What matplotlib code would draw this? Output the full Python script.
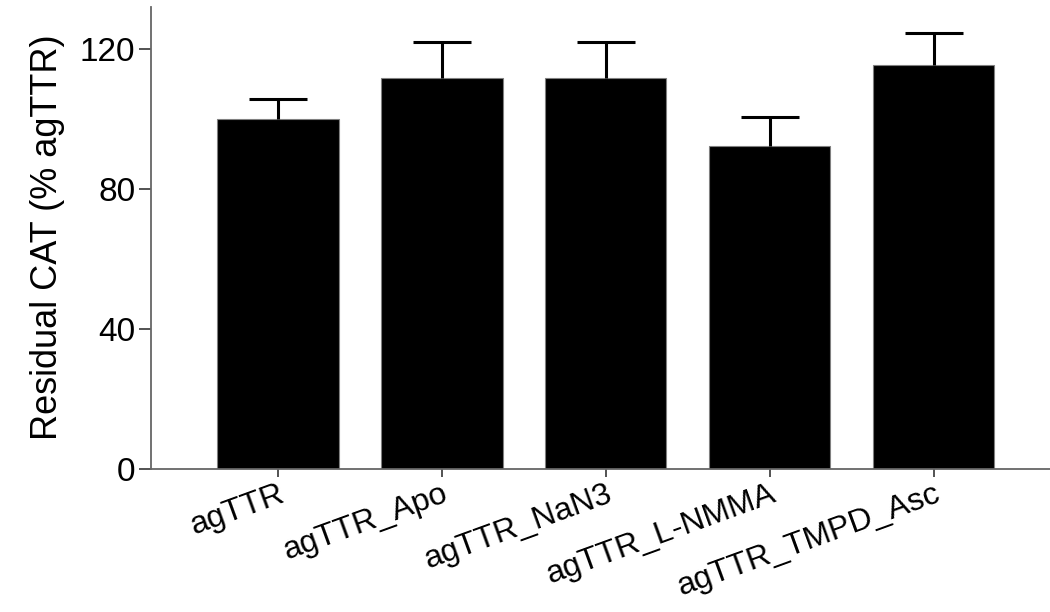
import matplotlib
matplotlib.use("Agg")
import matplotlib.pyplot as plt
import numpy as np

# residual CAT activity per treatment, as % of agTTR
groups = ["agTTR", "agTTR_Apo", "agTTR_NaN3", "agTTR_L-NMMA", "agTTR_TMPD_Asc"]
residual_cat = [100.0, 111.7, 111.7, 92.5, 115.4]
sem = [5.7, 10.3, 10.3, 8.3, 9.2]
y_ticks = [0, 40, 80, 120]

plt.rcParams["font.family"] = ["Liberation Sans", "DejaVu Sans"]

fig = plt.figure(figsize=(10.5, 6.12), dpi=100)
ax = fig.add_axes([0.1435, 0.2332, 0.8565, 0.7548])

x = np.arange(len(groups))
ax.bar(x, residual_cat, width=0.74, color="black", edgecolor="#808080",
       linewidth=0.8, zorder=2)
# upper error bars only
_, caps, _ = ax.errorbar(x, residual_cat, yerr=[np.zeros(len(sem)), sem],
                         fmt="none", ecolor="black", elinewidth=2.2,
                         capsize=21, capthick=2.2, zorder=3)
caps[0].set_visible(False)

ax.set_xlim(-0.777, 4.71)
ax.set_ylim(0, 132)
ax.set_yticks(y_ticks)
ax.set_yticklabels([str(t) for t in y_ticks], fontsize=24)
ax.set_xticks(x)
ax.set_xticklabels(groups, fontsize=23, rotation=20, ha="right", va="top",
                   rotation_mode="anchor")

for side in ["top", "right"]:
    ax.spines[side].set_visible(False)
for side in ["left", "bottom"]:
    ax.spines[side].set_color("#666666")
    ax.spines[side].set_linewidth(1.3)

ax.tick_params(axis="y", length=9, width=1.3, color="#444444", pad=2)
ax.tick_params(axis="x", length=6, width=1.3, color="#444444", pad=1)

fig.text(0.045, 0.612, "Residual CAT (% agTTR)", rotation=90, ha="center",
         va="center", fontsize=26)

fig.savefig("out.png", dpi=100)
